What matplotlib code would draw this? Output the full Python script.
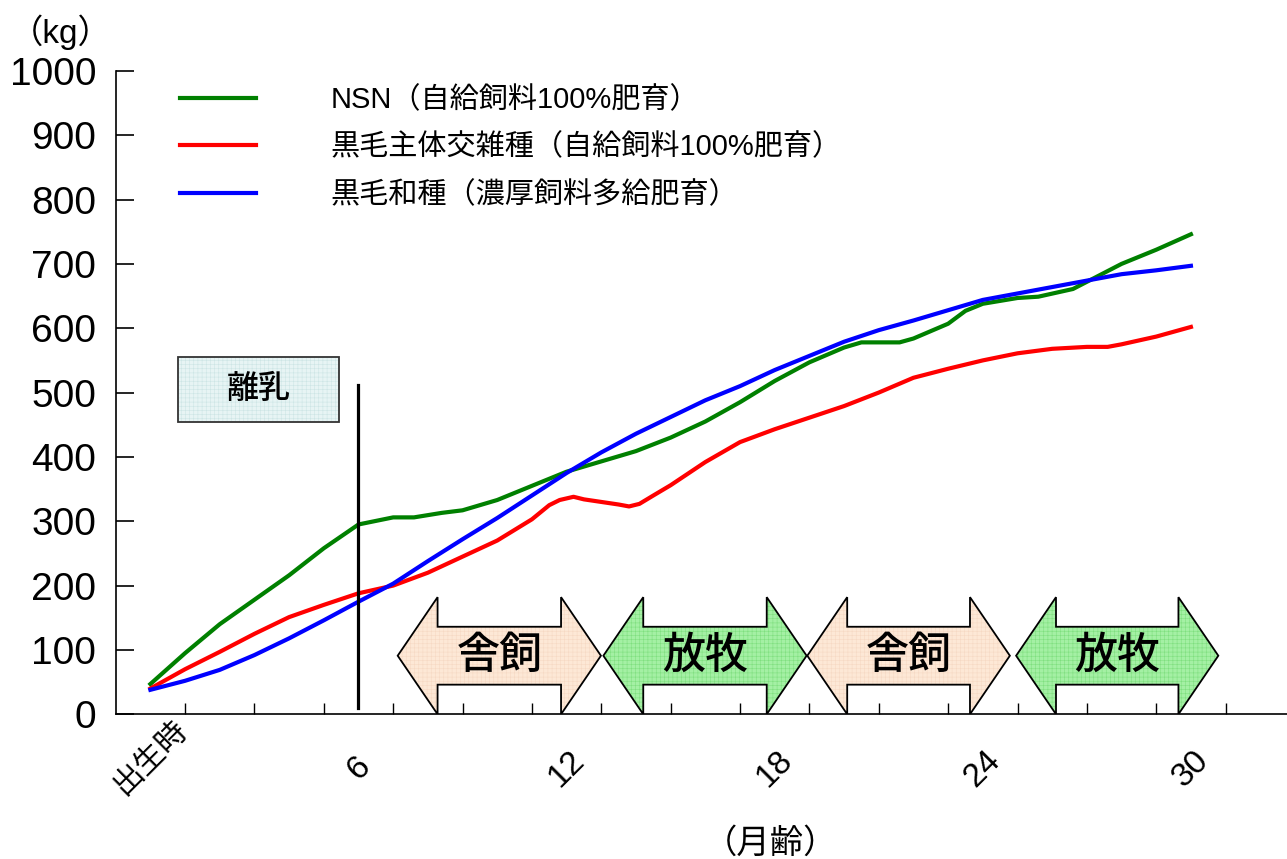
import numpy as np
import matplotlib.pyplot as plt
from matplotlib.patches import Polygon, Rectangle
from matplotlib.transforms import ScaledTranslation

plt.rcParams['font.family'] = ['Liberation Sans', 'Noto Sans CJK JP']
plt.rcParams['hatch.linewidth'] = 0.4

# body weight (kg) by age in months
nsn_month = [0, 1, 2, 3, 4, 5, 6, 7, 7.6, 8.4, 9, 10, 11, 12, 13, 14, 15, 16,
             17, 18, 19, 20, 20.5, 21.6, 22, 23, 23.5, 24, 25, 25.6, 26.6, 28, 29, 30]
nsn_kg = [47, 95, 140, 178, 216, 258, 295, 306, 306, 313, 317, 333, 355, 377, 393,
          409, 430, 455, 485, 518, 547, 570, 578, 578, 584, 607, 627, 638, 647, 649,
          661, 700, 722, 746]

cross_month = [0, 1, 2, 3, 4, 5, 6, 7, 8, 9, 10, 11, 11.5, 11.8, 12.2, 12.5, 13.5,
               13.8, 14.1, 14.5, 15, 16, 17, 18, 19, 20, 21, 22, 23, 24, 25, 26, 27,
               27.6, 28, 29, 30]
cross_kg = [40, 70, 97, 125, 151, 170, 188, 200, 220, 245, 270, 303, 325, 333, 338,
            334, 326, 323, 327, 340, 356, 392, 423, 443, 461, 479, 500, 523, 537, 550,
            561, 568, 571, 571, 575, 587, 602]

wagyu_month = list(range(0, 31))
wagyu_kg = [38, 52, 69, 92, 118, 146, 175, 203, 238, 272, 305, 340, 375, 407, 436,
            462, 488, 510, 535, 557, 579, 597, 612, 628, 644, 654, 664, 674, 684, 690,
            697]

labels = ['NSN（自給飼料100%肥育）', '黒毛主体交雑種（自給飼料100%肥育）', '黒毛和種（濃厚飼料多給肥育）']

tick_months = [0, 6, 12, 18, 24, 30]
tick_labels = ['出生時', '6', '12', '18', '24', '30']

# housing / grazing periods
period_names = ['舎飼', '放牧', '舎飼', '放牧']
period_start = [7.13, 13.06, 18.94, 24.96]
period_end = [12.99, 18.92, 24.78, 30.79]
period_fill = ['#fde8d6', '#a4f0a4']
period_hatch = ['#f6d9c4', '#7fdf7f']
weaning_month = 6

fig = plt.figure(figsize=(12.87, 8.59), dpi=100)
ax = fig.add_axes([0.0899, 0.1685, 0.9101, 0.749])

ax.plot(nsn_month, nsn_kg, color='#008000', lw=3, label=labels[0])
ax.plot(cross_month, cross_kg, color='#ff0000', lw=3, label=labels[1])
ax.plot(wagyu_month, wagyu_kg, color='#0000ff', lw=3, label=labels[2])

# double-headed arrows for each period
head = 1.15
for i, name in enumerate(period_names):
    a, b = period_start[i], period_end[i]
    pts = [(a, 91), (a + head, 182), (a + head, 136), (b - head, 136), (b - head, 182),
           (b, 91), (b - head, 0), (b - head, 46), (a + head, 46), (a + head, 0)]
    ax.add_patch(Polygon(pts, closed=True, facecolor=period_fill[i % 2],
                         edgecolor='none', zorder=3))
    ax.add_patch(Polygon(pts, closed=True, fill=False, hatch='++++',
                         edgecolor=period_hatch[i % 2], lw=0, zorder=3))
    ax.add_patch(Polygon(pts, closed=True, fill=False, edgecolor='black',
                         lw=1.3, zorder=4))
    ax.text((a + b) / 2, 91, name, ha='center', va='center', fontsize=31,
            family='Noto Sans CJK JP', fontweight='medium', zorder=5)

# weaning marker
ax.plot([weaning_month, weaning_month], [9, 511], color='black', lw=2.3)
ax.add_patch(Rectangle((0.79, 454), 4.66, 101, facecolor='#e7f4f4',
                       edgecolor='none', zorder=3))
ax.add_patch(Rectangle((0.79, 454), 4.66, 101, fill=False, hatch='++++',
                       edgecolor='#cde5e5', lw=0, zorder=3))
ax.add_patch(Rectangle((0.79, 454), 4.66, 101, fill=False, edgecolor='#333333',
                       lw=1.3, zorder=4))
ax.text(3.12, 505, '離乳', ha='center', va='center', fontsize=23,
        family='Noto Sans CJK JP', fontweight='medium', zorder=5)

ax.set_xlim(-1, 32.77)
ax.set_ylim(0, 1000)
ax.spines['top'].set_visible(False)
ax.spines['right'].set_visible(False)
ax.spines['left'].set_linewidth(1.2)
ax.spines['bottom'].set_linewidth(1.2)

ax.set_yticks(np.arange(0, 1001, 100))
ax.tick_params(axis='y', direction='in', length=13, width=1.2, pad=14, labelsize=28)

ax.set_xticks(tick_months)
ax.set_xticks(np.arange(1, 33, 2), minor=True)
ax.tick_params(axis='x', which='minor', direction='in', length=8, width=1)
ax.tick_params(axis='x', which='major', length=0, pad=39)
ax.set_xticklabels(tick_labels, rotation=45, ha='center', va='center', fontsize=24)
first = ax.get_xticklabels()[0]
first.set_fontsize(22)
first.set_transform(first.get_transform() + ScaledTranslation(0, 11 / 100, fig.dpi_scale_trans))

ax.legend(loc='upper left', bbox_to_anchor=(0.045, 0.995), frameon=False,
          handlelength=2.6, handletextpad=2.55, labelspacing=0.67,
          borderaxespad=0, prop={'family': ['Liberation Sans', 'Noto Sans CJK JP'], 'size': 21})

fig.text(61 / 1287, 1 - 32 / 859, '（kg）', ha='center', va='center', fontsize=24,
         family=['Liberation Sans', 'Noto Sans CJK JP'])
fig.text(771 / 1287, 1 - 843 / 859, '（月齢）', ha='center', va='center', fontsize=24,
         family='Noto Sans CJK JP')

fig.savefig('out.png', dpi=100)
